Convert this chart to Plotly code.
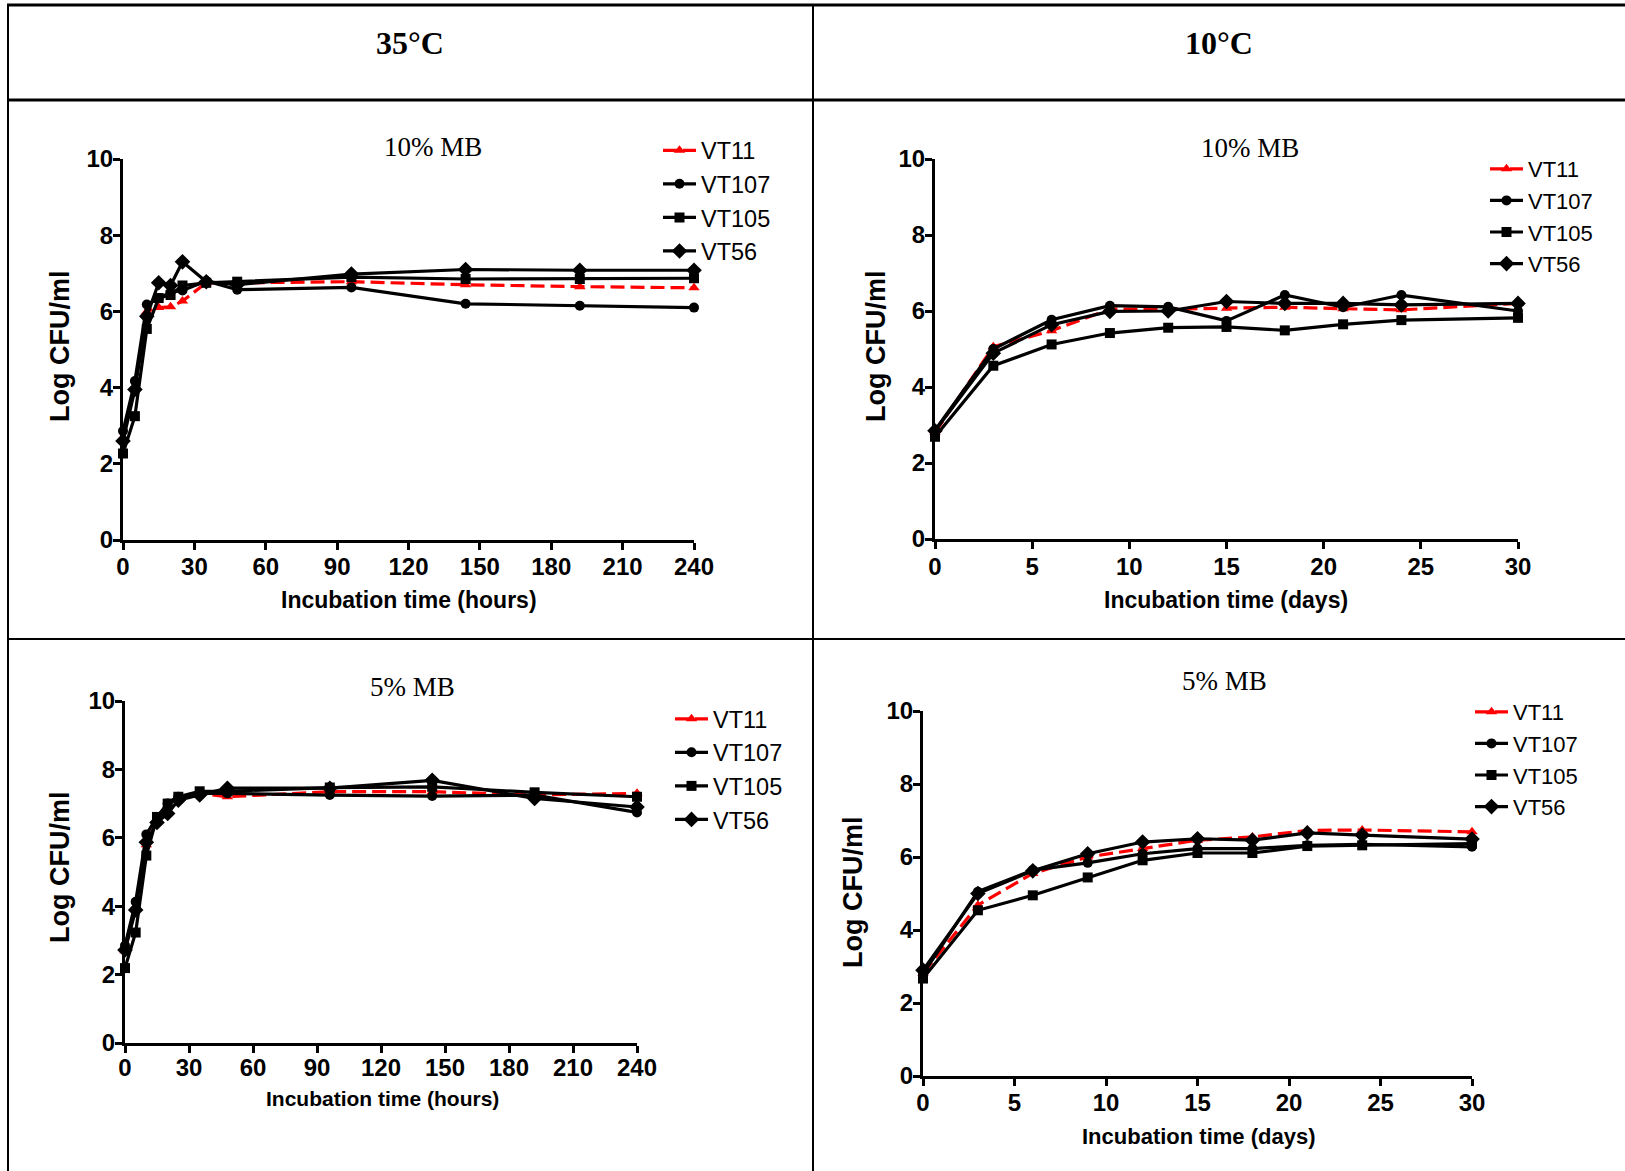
import plotly.graph_objects as go

W, H = 1625, 1171

# ---------------- data ----------------
hours = [0, 5, 10, 15, 20, 25, 35, 48, 96, 144, 192, 240]
days = [0, 3, 6, 9, 12, 15, 18, 21, 24, 30]
strains = ["VT11", "VT107", "VT105", "VT56"]

# 35°C, 10% MB
h10_vt11 = [2.7, 4.0, 6.0, 6.1, 6.12, 6.27, 6.75, 6.75, 6.78, 6.7, 6.65, 6.62]
h10_vt107 = [2.86, 4.17, 6.18, 6.35, 6.5, 6.55, 6.8, 6.57, 6.63, 6.2, 6.15, 6.1]
h10_vt105 = [2.27, 3.25, 5.54, 6.35, 6.43, 6.68, 6.75, 6.78, 6.9, 6.85, 6.85, 6.87]
h10_vt56 = [2.6, 3.95, 5.87, 6.75, 6.68, 7.3, 6.78, 6.7, 6.98, 7.1, 7.08, 7.08]

# 10°C, 10% MB
d10_vt11 = [2.8, 5.06, 5.48, 6.05, 6.05, 6.07, 6.1, 6.06, 6.03, 6.2]
d10_vt107 = [2.86, 5.0, 5.77, 6.14, 6.11, 5.74, 6.42, 6.1, 6.42, 6.0]
d10_vt105 = [2.69, 4.56, 5.12, 5.42, 5.56, 5.58, 5.49, 5.65, 5.76, 5.82]
d10_vt56 = [2.85, 4.89, 5.64, 5.99, 6.0, 6.25, 6.2, 6.2, 6.16, 6.2]

# 35°C, 5% MB
h5_vt11 = [2.7, 4.0, 5.8, 6.5, 6.8, 7.15, 7.3, 7.2, 7.35, 7.35, 7.25, 7.3]
h5_vt107 = [2.85, 4.13, 6.1, 6.6, 7.0, 7.2, 7.3, 7.3, 7.25, 7.22, 7.25, 6.74]
h5_vt105 = [2.19, 3.23, 5.48, 6.61, 7.0, 7.2, 7.36, 7.36, 7.47, 7.49, 7.33, 7.2]
h5_vt56 = [2.72, 3.89, 5.87, 6.45, 6.71, 7.1, 7.25, 7.45, 7.45, 7.68, 7.15, 6.9]

# 10°C, 5% MB
d5_vt11 = [2.81, 4.68, 5.55, 6.0, 6.23, 6.46, 6.55, 6.73, 6.74, 6.69]
d5_vt107 = [2.8, 5.05, 5.64, 5.84, 6.09, 6.23, 6.23, 6.32, 6.35, 6.28]
d5_vt105 = [2.67, 4.54, 4.95, 5.44, 5.91, 6.11, 6.11, 6.3, 6.32, 6.37]
d5_vt56 = [2.9, 5.0, 5.62, 6.09, 6.41, 6.5, 6.46, 6.66, 6.6, 6.49]

hour_ticks = [0, 30, 60, 90, 120, 150, 180, 210, 240]
day_ticks = [0, 5, 10, 15, 20, 25, 30]
y_ticks = [0, 2, 4, 6, 8, 10]

temps = ["35°C", "10°C"]
media = ["10% MB", "10% MB", "5% MB", "5% MB"]
ytitle = "Log CFU/ml"
xtitles = ["Incubation time (hours)", "Incubation time (days)",
           "Incubation time (hours)", "Incubation time (days)"]

# ---------------- helpers ----------------
def px_x(p):
    return p / W

def px_y(p):
    return 1 - p / H

SANS = "Arial, Liberation Sans, sans-serif"
SERIF = "Times New Roman, Liberation Serif, serif"

styles = [
    dict(color="#ff0000", symbol="triangle-up", dash="14px,6px"),
    dict(color="black", symbol="circle", dash="solid"),
    dict(color="black", symbol="square", dash="solid"),
    dict(color="black", symbol="diamond", dash="solid"),
]

panels = [
    dict(x=hours, ys=[h10_vt11, h10_vt107, h10_vt105, h10_vt56], xr=[0, 240], ticks=hour_ticks,
         dom_x=(123, 694), dom_y=(540, 159), leg=(658, 128.5), legfont=23.5, xstand=-4),
    dict(x=days, ys=[d10_vt11, d10_vt107, d10_vt105, d10_vt56], xr=[0, 30], ticks=day_ticks,
         dom_x=(935, 1518), dom_y=(539, 159), leg=(1485, 148), legfont=22, xstand=-3),
    dict(x=hours, ys=[h5_vt11, h5_vt107, h5_vt105, h5_vt56], xr=[0, 240], ticks=hour_ticks,
         dom_x=(125, 637), dom_y=(1043, 701), leg=(670, 697), legfont=23.5, xstand=-6),
    dict(x=days, ys=[d5_vt11, d5_vt107, d5_vt105, d5_vt56], xr=[0, 30], ticks=day_ticks,
         dom_x=(923, 1472), dom_y=(1076, 711), leg=(1470, 691), legfont=22, xstand=-4),
]

fig = go.Figure()
layout = dict(
    width=W, height=H, margin=dict(l=0, r=0, t=0, b=0, pad=0, autoexpand=False),
    paper_bgcolor="white", plot_bgcolor="white",
    showlegend=True,
)

for i, p in enumerate(panels):
    n = "" if i == 0 else str(i + 1)
    legname = "legend" if i == 0 else f"legend{i + 1}"
    for j, (name, yv) in enumerate(zip(strains, p["ys"])):
        st = styles[j]
        fig.add_trace(go.Scatter(
            x=p["x"], y=yv, name=name, mode="lines+markers",
            xaxis="x" + n, yaxis="y" + n, legend=legname,
            line=dict(color=st["color"], width=3.2, dash=st["dash"]),
            marker=dict(symbol=st["symbol"], size=10 if j != 3 else 12, color=st["color"]),
            cliponaxis=False,
        ))
    axis_common = dict(showgrid=False, zeroline=False, showline=True, linewidth=3,
                       linecolor="black", ticks="outside", ticklen=7, tickwidth=3,
                       tickcolor="black", automargin=False,
                       tickfont=dict(family=SANS, size=24, color="black", weight="bold"))
    layout["xaxis" + n] = dict(
        domain=[px_x(p["dom_x"][0]), px_x(p["dom_x"][1])], anchor="y" + n,
        range=p["xr"], tickvals=p["ticks"], ticklabelstandoff=p["xstand"], **axis_common)
    layout["yaxis" + n] = dict(
        domain=[px_y(p["dom_y"][0]), px_y(p["dom_y"][1])], anchor="x" + n,
        range=[0, 10], tickvals=y_ticks, ticklabelstandoff=-5, **axis_common)
    layout[legname] = dict(
        x=px_x(p["leg"][0]), y=px_y(p["leg"][1]), xanchor="left", yanchor="top",
        bgcolor="rgba(0,0,0,0)", borderwidth=0, itemwidth=33,
        font=dict(family=SANS, size=p["legfont"], color="black"),
        tracegroupgap=0,
    )

fig.update_layout(**layout)

# ---------------- table borders ----------------
def hline(y, w):
    fig.add_shape(type="line", xref="paper", yref="paper",
                  x0=px_x(7), x1=1, y0=px_y(y), y1=px_y(y),
                  line=dict(color="black", width=w))

hline(5, 3)
hline(100, 3)
hline(639, 2)
fig.add_shape(type="line", xref="paper", yref="paper",
              x0=px_x(8), x1=px_x(8), y0=px_y(4), y1=0,
              line=dict(color="black", width=2))
fig.add_shape(type="line", xref="paper", yref="paper",
              x0=px_x(813), x1=px_x(813), y0=px_y(4), y1=0,
              line=dict(color="black", width=2))

# ---------------- texts ----------------
def text(t, x, y, size, family, bold=False, angle=0):
    fig.add_annotation(text=t, x=px_x(x), y=px_y(y), xref="paper", yref="paper",
                       xanchor="center", yanchor="middle", showarrow=False,
                       textangle=angle,
                       font=dict(family=family, size=size, color="black",
                                 weight="bold" if bold else "normal"))

text(temps[0], 410, 43, 32, SERIF, bold=True)
text(temps[1], 1219, 43, 32, SERIF, bold=True)

title_pos = [(433, 147), (1250, 148), (412, 687), (1224, 681)]
for t, (x, y) in zip(media, title_pos):
    text(t, x, y, 27, SERIF)

xt_pos = [(409, 600, 23), (1226, 600, 23), (382, 1098, 21), (1198, 1136, 22)]
for t, (x, y, s) in zip(xtitles, xt_pos):
    text(t, x, y, s, SANS, bold=True)

yt_pos = [(60, 347), (876, 347), (60, 868), (853, 893)]
for (x, y) in yt_pos:
    text(ytitle, x, y, 27, SANS, bold=True, angle=-90)

fig.write_html("out.html", config={"displayModeBar": False},
               post_script="document.body.style.margin='0';")
